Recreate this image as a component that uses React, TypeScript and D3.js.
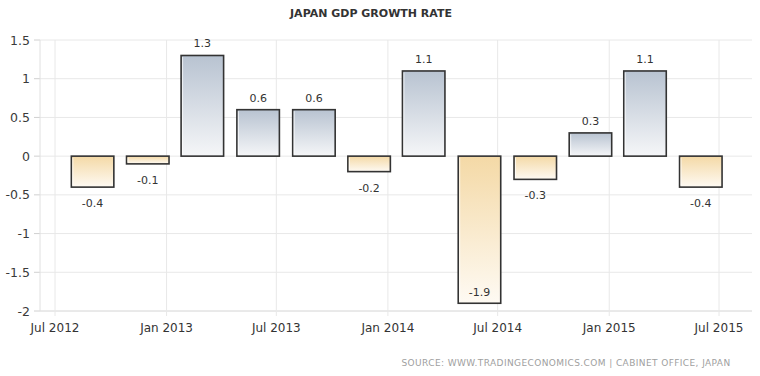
import React from "react";
import * as d3 from "d3";

const quarters: string[] = [
  "2012-09-01", "2012-12-01", "2013-03-01", "2013-06-01",
  "2013-09-01", "2013-12-01", "2014-03-01", "2014-06-01",
  "2014-09-01", "2014-12-01", "2015-03-01", "2015-06-01",
];
const growth: number[] = [-0.4, -0.1, 1.3, 0.6, 0.6, -0.2, 1.1, -1.9, -0.3, 0.3, 1.1, -0.4];
const yTicks: number[] = [1.5, 1, 0.5, 0, -0.5, -1, -1.5, -2];
const xTickDates: string[] = ["2012-07-01", "2013-01-01", "2013-07-01", "2014-01-01", "2014-07-01", "2015-01-01", "2015-07-01"];
const xTickLabels: string[] = ["Jul 2012", "Jan 2013", "Jul 2013", "Jan 2014", "Jul 2014", "Jan 2015", "Jul 2015"];
const title = "JAPAN GDP GROWTH RATE";
const source = "SOURCE: WWW.TRADINGECONOMICS.COM  |  CABINET OFFICE, JAPAN";

const W = 760;
const H = 376;
const plotLeft = 40;
const plotRight = 752;
const FONT = "'DejaVu Sans', Verdana, sans-serif";

export default function App() {
  const parse = d3.timeParse("%Y-%m-%d");
  const x = d3.scaleTime()
    .domain([parse("2012-07-01")!, parse("2015-07-01")!])
    .range([55, 719]);
  const y = d3.scaleLinear().domain([-2, 1.5]).range([311, 40]);
  const barW = 42.5;
  const y0 = y(0);

  return (
    <svg width={W} height={H} style={{ position: "absolute", left: 0, top: 0, background: "#fff" }}>
      <defs>
        <linearGradient id="gPos" x1="0" y1="0" x2="0" y2="1">
          <stop offset="0%" stopColor="#b8c3d1" />
          <stop offset="100%" stopColor="#f5f6f8" />
        </linearGradient>
        <linearGradient id="gNeg" x1="0" y1="0" x2="0" y2="1">
          <stop offset="0%" stopColor="#f4d9a6" />
          <stop offset="100%" stopColor="#fefaf3" />
        </linearGradient>
      </defs>
      <rect x={0} y={0} width={W} height={H} fill="#fff" />
      <text x={371} y={17} textAnchor="middle" fontFamily={FONT} fontSize={11} fontWeight="bold" fill="#333">
        {title}
      </text>
      {yTicks.map((t) => (
        <g key={"y" + t}>
          <line x1={plotLeft} x2={plotRight} y1={y(t)} y2={y(t)} stroke={t === -2 ? "#d4d4d4" : "#e8e8e8"} strokeWidth={1} />
          <line x1={plotLeft - 6} x2={plotLeft} y1={y(t)} y2={y(t)} stroke="#d0d0d0" strokeWidth={1} />
          <text x={30} y={y(t) + 4.5} textAnchor="end" fontFamily={FONT} fontSize={12.5} fill="#3a3a3a">
            {String(t)}
          </text>
        </g>
      ))}
      <line x1={plotLeft} x2={plotLeft} y1={y(1.5)} y2={y(-2)} stroke="#e0e0e0" strokeWidth={1} />
      {xTickDates.map((d, i) => {
        const px = x(parse(d)!);
        return (
          <g key={"x" + d}>
            <line x1={px} x2={px} y1={y(1.5)} y2={y(-2) + 5} stroke="#e8e8e8" strokeWidth={1} />
            <text x={px} y={332} textAnchor="middle" fontFamily={FONT} fontSize={12} fill="#333">
              {xTickLabels[i]}
            </text>
          </g>
        );
      })}
      {growth.map((v, i) => {
        const cx = x(parse(quarters[i])!);
        const top = Math.min(y(v), y0);
        const h = Math.abs(y(v) - y0);
        const pos = v >= 0;
        const inside = y(v) > 290;
        let ly: number;
        if (pos) ly = y(v) - 8;
        else if (inside) ly = y(v) - 7;
        else ly = y(v) + 20;
        return (
          <g key={"b" + i}>
            <rect x={cx - barW / 2} y={top} width={barW} height={h}
              fill={pos ? "url(#gPos)" : "url(#gNeg)"} stroke="#333" strokeWidth={1.6} />
            <line x1={cx - barW / 2 + 1.5} x2={cx - barW / 2 + 1.5} y1={top + 1.5} y2={top + h - 1.5}
              stroke="#fff" strokeOpacity={0.7} strokeWidth={1} />
            <text x={cx} y={ly} textAnchor="middle" fontFamily={FONT} fontSize={11} fill="#333">
              {String(v)}
            </text>
          </g>
        );
      })}
      <text x={566} y={366} textAnchor="middle" fontFamily={FONT} fontSize={9} letterSpacing={0.4} fill="#a0a0a0">
        {source}
      </text>
    </svg>
  );
}
